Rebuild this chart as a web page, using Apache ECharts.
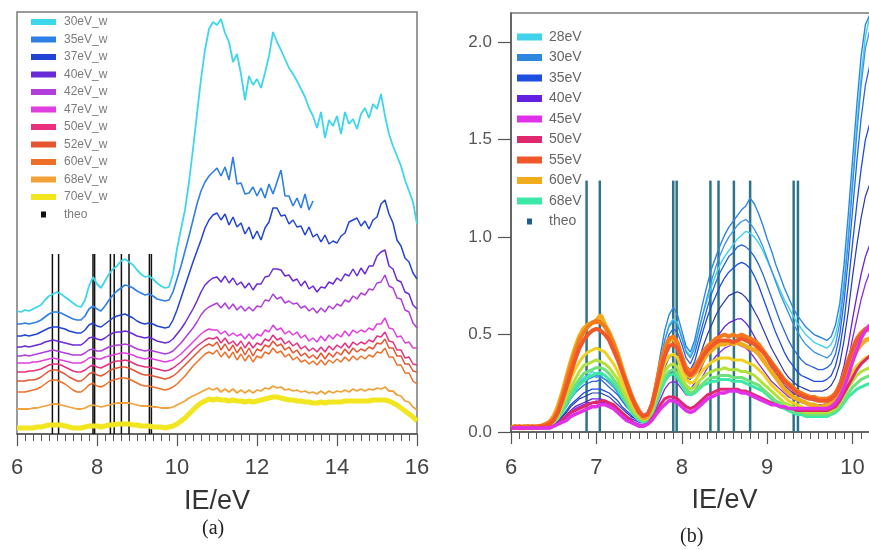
<!DOCTYPE html>
<html>
<head>
<meta charset="utf-8">
<title>IE spectra</title>
<script src="https://cdn.jsdelivr.net/npm/echarts@6/dist/echarts.min.js"></script>
<style>
  html, body { margin: 0; padding: 0; background: #fff; }
  #chart { width: 869px; height: 550px; }
</style>
</head>
<body>
<div id="chart"></div>
<script>
// panel (a): IE 6..16 eV, 0.1 eV step, curves offset (arb. units)
const ieA = [];
for (let i = 0; i <= 100; i++) ieA.push(+(6 + i * 0.1).toFixed(1));

const eV30w = [
  123,122,124,123,125,127,129,134,138,140,
  142,140,137,134,131,128,127,134,148,157,
  150,146,153,160,165,168,173,175,172,169,
  164,160,157,158,155,151,148,146,147,160,
  185,205,224,252,285,320,355,384,405,412,
  409,415,401,392,372,380,360,334,358,349,
  355,346,361,378,402,392,384,375,366,360,
  353,345,337,326,318,306,322,296,314,308,
  318,300,322,310,315,305,320,326,316,330,
  325,340,318,300,288,278,268,254,243,232,
  210];
// 35eV_w stops at 13.4 eV
const eV35w = [
  110,110,111,110,111,112,114,117,120,122,
  122,121,119,117,115,114,114,118,125,128,
  125,123,128,134,139,143,146,149,148,146,
  143,141,139,140,138,135,134,133,134,142,
  155,168,183,198,214,230,243,252,258,262,
  266,258,267,254,277,250,251,240,241,247,
  238,246,236,250,240,252,264,238,238,228,
  236,226,240,224,233];
const eV37w = [
  98,98,99,98,99,100,102,104,106,107,
  107,106,105,103,102,101,101,104,109,111,
  108,107,110,113,116,118,119,120,118,116,
  113,111,110,111,110,108,107,106,107,114,
  124,136,148,160,172,183,194,206,214,219,
  221,214,220,209,217,207,211,200,207,195,
  203,194,206,212,226,226,218,219,210,214,
  207,208,199,207,197,200,192,199,190,193,
  191,198,201,212,214,216,208,213,205,214,
  217,230,234,220,211,194,188,176,172,161,
  155];
const eV40w = [
  87,87,88,87,88,89,90,92,93,94,
  93,92,91,90,89,89,89,92,96,97,
  95,94,96,99,101,102,102,103,102,100,
  98,97,96,97,95,93,92,91,92,95,
  100,105,111,118,125,133,142,149,153,156,
  157,152,158,151,156,149,152,146,151,144,
  150,150,157,158,165,165,164,158,159,153,
  155,148,153,145,148,142,147,146,152,150,
  156,153,160,158,165,158,166,160,168,168,
  178,182,184,168,165,154,152,142,140,129,
  125];
const eV42w = [
  78,78,79,78,79,80,81,82,83,84,
  83,82,81,80,79,79,79,81,84,85,
  83,83,85,87,88,89,89,90,89,87,
  85,84,83,84,83,82,81,80,81,83,
  87,91,96,101,106,112,119,124,127,129,
  131,126,131,125,130,124,128,123,127,123,
  128,127,134,133,140,135,137,131,133,130,
  131,126,128,123,126,121,126,122,128,125,
  130,128,134,132,138,135,141,139,145,144,
  151,152,159,148,146,136,135,124,122,111,
  106];
const eV47w = [
  71,71,71,71,72,72,73,74,75,76,
  75,74,73,72,71,71,71,73,76,77,
  75,75,77,78,79,80,81,81,80,79,
  77,76,75,76,75,74,73,72,73,74,
  77,80,84,88,92,96,100,103,105,104,
  104,100,103,98,101,98,100,95,100,95,
  100,98,104,102,109,104,106,100,103,99,
  102,96,99,93,96,92,98,93,99,95,
  100,97,103,98,104,101,104,102,106,104,
  110,110,116,106,105,97,98,91,92,86,
  86];
const eV50w = [
  62,62,62,63,63,64,65,67,69,70,
  70,69,67,65,63,62,62,64,67,69,
  67,66,68,70,72,73,73,74,73,71,
  69,68,67,67,66,65,64,63,64,66,
  69,72,76,80,84,88,91,94,96,95,
  97,91,96,90,93,88,93,86,92,86,
  91,89,95,93,99,94,96,90,93,88,
  91,85,88,83,86,82,87,82,88,84,
  89,86,91,86,92,89,92,90,94,92,
  98,97,102,93,92,84,84,76,77,70,
  69];
const eV52w = [
  53,53,53,54,54,55,57,60,63,64,
  64,62,60,57,55,53,53,56,60,62,
  59,58,60,63,65,66,67,67,66,64,
  62,60,59,59,58,57,56,55,56,58,
  61,65,69,73,77,81,85,88,90,88,
  92,84,90,83,89,81,87,79,86,78,
  85,83,89,87,93,88,90,84,87,81,
  84,78,81,76,79,75,81,75,81,77,
  82,79,85,80,86,82,85,83,87,85,
  91,90,95,86,86,78,78,70,70,63,
  62];
const eV60w = [
  42,42,42,43,44,45,47,50,53,54,
  54,52,50,47,44,42,42,45,49,51,
  48,47,49,52,54,55,56,56,55,53,
  51,49,48,48,47,46,45,44,45,47,
  50,54,58,63,68,72,76,80,82,80,
  84,77,82,76,82,74,80,73,79,72,
  78,76,82,80,86,81,83,77,80,74,
  77,72,74,70,73,69,74,69,74,71,
  75,72,77,73,78,74,78,75,79,77,
  82,81,86,77,77,69,69,61,61,53,
  50];
const eV68w = [
  25,25,25,25,26,26,27,28,29,30,
  30,29,28,27,26,25,25,26,28,29,
  28,27,28,29,30,31,31,31,31,30,
  29,28,28,28,27,27,26,26,26,27,
  29,31,33,36,38,40,42,44,46,44,
  46,42,45,42,45,41,44,41,44,41,
  44,43,46,45,48,46,47,44,45,43,
  44,42,43,41,42,40,43,40,43,41,
  43,42,44,42,45,43,45,43,45,44,
  46,45,47,43,43,39,38,33,32,27,
  24];
const eV70w = [
  6,6,6,6,6,7,7,8,9,9,
  9,9,8,7,6,6,6,7,8,8,
  8,7,8,9,9,10,10,10,10,9,
  9,8,8,8,7,7,7,6,7,8,
  10,13,16,20,24,28,31,33,35,34,
  35,34,34,33,34,33,33,32,33,32,
  33,34,35,36,37,37,36,35,34,34,
  33,33,32,32,31,31,32,31,32,32,
  32,32,33,33,33,33,33,33,33,34,
  34,34,34,33,31,29,26,23,20,17,
  13];

// panel (b): IE 6..10.2 eV, 0.05 eV step
const ieB = [];
for (let i = 0; i <= 84; i++) ieB.push(+(6 + i * 0.05).toFixed(2));

const eV28 = [
  0.03,0.03,0.02,0.03,0.02,0.02,0.03,0.02,0.03,0.04,
  0.05,0.08,0.12,0.16,0.20,0.23,0.26,0.28,0.29,0.31,
  0.30,0.31,0.29,0.27,0.25,0.22,0.19,0.16,0.13,0.11,
  0.09,0.08,0.09,0.14,0.24,0.36,0.47,0.55,0.58,0.56,
  0.49,0.42,0.39,0.45,0.53,0.61,0.68,0.75,0.81,0.86,
  0.90,0.93,0.96,0.99,1.01,1.03,1.02,1.00,0.97,0.93,
  0.88,0.83,0.78,0.73,0.68,0.64,0.60,0.56,0.53,0.50,
  0.48,0.46,0.45,0.44,0.43,0.45,0.50,0.60,0.78,1.02,
  1.30,1.58,1.83,2.03,2.13];
const eV30 = [
  0.02,0.03,0.03,0.02,0.02,0.03,0.02,0.03,0.03,0.04,
  0.05,0.07,0.10,0.14,0.18,0.21,0.24,0.26,0.27,0.28,
  0.29,0.28,0.27,0.26,0.24,0.21,0.18,0.15,0.12,0.10,
  0.09,0.09,0.10,0.16,0.27,0.40,0.52,0.60,0.64,0.60,
  0.52,0.44,0.41,0.47,0.57,0.67,0.76,0.84,0.90,0.96,
  1.01,1.05,1.08,1.11,1.14,1.16,1.20,1.17,1.12,1.06,
  0.99,0.93,0.86,0.80,0.74,0.69,0.64,0.60,0.57,0.54,
  0.52,0.50,0.49,0.48,0.47,0.49,0.55,0.66,0.86,1.12,
  1.40,1.68,1.93,2.09,2.14];
const eV35 = [
  0.02,0.02,0.03,0.02,0.02,0.02,0.03,0.02,0.03,0.03,
  0.04,0.06,0.08,0.11,0.14,0.16,0.18,0.20,0.21,0.22,
  0.22,0.22,0.21,0.20,0.18,0.16,0.13,0.11,0.09,0.07,
  0.06,0.06,0.07,0.11,0.19,0.29,0.39,0.46,0.48,0.46,
  0.40,0.34,0.32,0.36,0.44,0.52,0.59,0.65,0.70,0.75,
  0.79,0.82,0.84,0.86,0.87,0.86,0.84,0.80,0.75,0.69,
  0.63,0.57,0.51,0.46,0.41,0.37,0.34,0.31,0.29,0.28,
  0.27,0.26,0.26,0.26,0.27,0.29,0.34,0.43,0.57,0.76,
  0.97,1.17,1.35,1.50,1.58];
const eV40 = [
  0.02,0.02,0.02,0.02,0.03,0.02,0.02,0.03,0.02,0.03,
  0.04,0.05,0.07,0.09,0.11,0.13,0.14,0.15,0.16,0.17,
  0.17,0.17,0.16,0.15,0.14,0.12,0.10,0.08,0.07,0.06,
  0.05,0.05,0.06,0.09,0.14,0.20,0.26,0.30,0.31,0.30,
  0.26,0.23,0.22,0.25,0.30,0.35,0.40,0.44,0.48,0.51,
  0.54,0.56,0.57,0.58,0.58,0.56,0.53,0.49,0.45,0.41,
  0.37,0.33,0.30,0.27,0.24,0.22,0.20,0.19,0.18,0.17,
  0.17,0.16,0.16,0.16,0.17,0.18,0.21,0.26,0.34,0.45,
  0.58,0.70,0.81,0.90,0.96];
const eV45 = [
  0.02,0.02,0.02,0.02,0.02,0.02,0.02,0.02,0.02,0.02,
  0.03,0.04,0.05,0.06,0.08,0.09,0.10,0.11,0.12,0.13,
  0.13,0.14,0.14,0.13,0.12,0.10,0.08,0.06,0.05,0.04,
  0.03,0.03,0.04,0.06,0.09,0.12,0.14,0.16,0.16,0.15,
  0.13,0.11,0.10,0.11,0.13,0.15,0.17,0.18,0.19,0.20,
  0.20,0.21,0.21,0.21,0.20,0.20,0.19,0.18,0.17,0.16,
  0.15,0.14,0.14,0.13,0.13,0.12,0.12,0.12,0.12,0.12,
  0.12,0.12,0.12,0.12,0.12,0.13,0.15,0.18,0.23,0.29,
  0.36,0.42,0.48,0.52,0.55];
const eV50 = [
  0.02,0.02,0.02,0.02,0.02,0.02,0.02,0.02,0.02,0.02,
  0.03,0.04,0.06,0.08,0.10,0.11,0.12,0.13,0.14,0.15,
  0.15,0.16,0.16,0.15,0.14,0.12,0.10,0.08,0.06,0.04,
  0.03,0.03,0.04,0.07,0.10,0.14,0.17,0.18,0.18,0.17,
  0.15,0.13,0.12,0.13,0.15,0.17,0.19,0.20,0.21,0.22,
  0.22,0.22,0.22,0.22,0.21,0.21,0.20,0.19,0.18,0.17,
  0.16,0.15,0.14,0.13,0.13,0.12,0.12,0.11,0.11,0.11,
  0.11,0.11,0.11,0.11,0.11,0.12,0.13,0.16,0.20,0.24,
  0.28,0.32,0.35,0.37,0.39];
const eV55 = [
  0.02,0.02,0.03,0.02,0.02,0.03,0.02,0.03,0.03,0.04,
  0.06,0.10,0.16,0.23,0.30,0.37,0.43,0.47,0.50,0.52,
  0.53,0.52,0.50,0.47,0.42,0.37,0.31,0.25,0.19,0.14,
  0.10,0.08,0.09,0.14,0.22,0.31,0.39,0.44,0.45,0.43,
  0.37,0.31,0.29,0.31,0.35,0.39,0.42,0.44,0.46,0.47,
  0.47,0.47,0.46,0.47,0.48,0.47,0.46,0.45,0.43,0.41,
  0.38,0.35,0.32,0.29,0.26,0.24,0.22,0.20,0.19,0.18,
  0.17,0.17,0.16,0.16,0.16,0.17,0.19,0.23,0.29,0.36,
  0.42,0.47,0.50,0.52,0.53];
const eV60 = [
  0.02,0.03,0.02,0.02,0.03,0.02,0.03,0.03,0.04,0.05,
  0.08,0.13,0.20,0.28,0.36,0.43,0.49,0.53,0.55,0.56,
  0.57,0.60,0.55,0.51,0.46,0.40,0.33,0.26,0.20,0.14,
  0.10,0.07,0.08,0.13,0.23,0.34,0.42,0.47,0.48,0.45,
  0.38,0.31,0.28,0.30,0.33,0.37,0.40,0.42,0.44,0.45,
  0.45,0.46,0.45,0.46,0.45,0.44,0.43,0.42,0.40,0.37,
  0.34,0.31,0.28,0.25,0.22,0.20,0.18,0.17,0.16,0.15,
  0.14,0.14,0.13,0.13,0.14,0.15,0.17,0.21,0.27,0.33,
  0.38,0.42,0.45,0.47,0.48];
const eV68 = [
  0.02,0.02,0.02,0.02,0.02,0.02,0.02,0.03,0.03,0.03,
  0.05,0.07,0.10,0.14,0.18,0.21,0.24,0.26,0.28,0.29,
  0.30,0.30,0.29,0.27,0.25,0.22,0.18,0.15,0.11,0.08,
  0.06,0.05,0.06,0.09,0.15,0.21,0.26,0.29,0.30,0.28,
  0.24,0.20,0.19,0.20,0.22,0.24,0.25,0.26,0.26,0.27,
  0.27,0.27,0.26,0.26,0.26,0.25,0.24,0.23,0.22,0.21,
  0.19,0.17,0.15,0.13,0.12,0.11,0.10,0.09,0.09,0.08,
  0.08,0.08,0.08,0.08,0.08,0.09,0.10,0.12,0.15,0.18,
  0.20,0.22,0.23,0.24,0.25];
// further scans that share the legend colours but have no own entry
const scan32 = [
  0.03,0.02,0.03,0.03,0.02,0.03,0.03,0.02,0.03,0.04,
  0.05,0.08,0.11,0.15,0.19,0.22,0.25,0.27,0.28,0.29,
  0.28,0.29,0.27,0.25,0.23,0.20,0.17,0.14,0.12,0.10,
  0.08,0.08,0.09,0.15,0.25,0.37,0.47,0.54,0.57,0.55,
  0.48,0.41,0.38,0.43,0.52,0.61,0.70,0.78,0.85,0.91,
  0.96,1.00,1.03,1.06,1.08,1.09,1.07,1.04,1.00,0.95,
  0.89,0.83,0.77,0.71,0.66,0.61,0.56,0.52,0.48,0.45,
  0.43,0.41,0.40,0.39,0.38,0.40,0.45,0.56,0.74,0.98,
  1.26,1.53,1.78,1.97,2.06];
const scan33 = [
  0.02,0.03,0.02,0.02,0.03,0.02,0.03,0.02,0.03,0.03,
  0.05,0.07,0.10,0.13,0.17,0.20,0.22,0.24,0.25,0.26,
  0.26,0.27,0.25,0.23,0.21,0.19,0.16,0.13,0.11,0.09,
  0.08,0.07,0.08,0.13,0.22,0.33,0.43,0.50,0.53,0.51,
  0.45,0.38,0.35,0.40,0.48,0.56,0.64,0.71,0.77,0.82,
  0.86,0.90,0.92,0.95,0.96,0.95,0.93,0.90,0.86,0.81,
  0.75,0.69,0.63,0.57,0.52,0.47,0.43,0.40,0.37,0.35,
  0.34,0.33,0.32,0.32,0.33,0.35,0.40,0.50,0.67,0.89,
  1.14,1.39,1.61,1.78,1.88];
const scan37 = [
  0.02,0.02,0.02,0.03,0.02,0.02,0.02,0.03,0.02,0.03,
  0.04,0.06,0.08,0.10,0.13,0.15,0.17,0.18,0.19,0.20,
  0.20,0.20,0.19,0.18,0.16,0.14,0.12,0.10,0.08,0.07,
  0.06,0.06,0.07,0.10,0.17,0.25,0.33,0.38,0.40,0.38,
  0.33,0.28,0.27,0.31,0.37,0.44,0.50,0.55,0.60,0.64,
  0.67,0.70,0.71,0.72,0.71,0.69,0.66,0.62,0.58,0.53,
  0.48,0.43,0.39,0.35,0.31,0.28,0.26,0.24,0.23,0.22,
  0.21,0.21,0.21,0.21,0.22,0.24,0.28,0.35,0.47,0.62,
  0.80,0.96,1.10,1.21,1.27];
const scan42 = [
  0.02,0.02,0.02,0.02,0.02,0.02,0.02,0.02,0.03,0.03,
  0.04,0.05,0.07,0.08,0.10,0.12,0.13,0.14,0.15,0.15,
  0.16,0.15,0.15,0.14,0.13,0.11,0.09,0.08,0.06,0.05,
  0.04,0.04,0.05,0.08,0.12,0.17,0.22,0.25,0.26,0.25,
  0.22,0.19,0.19,0.21,0.25,0.29,0.33,0.36,0.39,0.41,
  0.43,0.44,0.45,0.45,0.44,0.43,0.41,0.38,0.35,0.32,
  0.29,0.26,0.24,0.22,0.20,0.18,0.17,0.16,0.15,0.15,
  0.14,0.14,0.14,0.14,0.15,0.16,0.18,0.22,0.28,0.37,
  0.48,0.58,0.68,0.76,0.82];
const scan57 = [
  0.02,0.03,0.02,0.03,0.03,0.02,0.03,0.03,0.04,0.05,
  0.07,0.11,0.18,0.26,0.34,0.41,0.47,0.51,0.54,0.56,
  0.57,0.56,0.54,0.50,0.45,0.39,0.32,0.26,0.20,0.15,
  0.11,0.08,0.09,0.14,0.24,0.35,0.43,0.48,0.49,0.46,
  0.39,0.33,0.31,0.33,0.37,0.41,0.44,0.46,0.48,0.49,
  0.50,0.49,0.50,0.49,0.50,0.49,0.48,0.47,0.45,0.42,
  0.39,0.36,0.33,0.30,0.27,0.25,0.23,0.21,0.20,0.19,
  0.18,0.18,0.17,0.17,0.17,0.18,0.20,0.24,0.30,0.37,
  0.43,0.48,0.51,0.53,0.54];
const scan62 = [
  0.02,0.02,0.03,0.02,0.02,0.03,0.02,0.03,0.03,0.04,
  0.06,0.10,0.15,0.21,0.27,0.32,0.36,0.39,0.41,0.42,
  0.43,0.42,0.41,0.38,0.35,0.31,0.26,0.21,0.16,0.12,
  0.09,0.07,0.08,0.12,0.20,0.28,0.35,0.39,0.40,0.38,
  0.32,0.27,0.25,0.26,0.29,0.32,0.34,0.36,0.37,0.38,
  0.38,0.38,0.37,0.37,0.37,0.36,0.35,0.34,0.32,0.30,
  0.27,0.24,0.22,0.20,0.18,0.16,0.15,0.14,0.13,0.12,
  0.12,0.12,0.11,0.11,0.12,0.13,0.14,0.17,0.22,0.27,
  0.31,0.34,0.36,0.38,0.39];
const scan64 = [
  0.02,0.02,0.02,0.03,0.02,0.02,0.03,0.02,0.03,0.04,
  0.05,0.08,0.13,0.18,0.23,0.27,0.31,0.34,0.35,0.36,
  0.37,0.36,0.35,0.33,0.30,0.27,0.22,0.18,0.14,0.10,
  0.08,0.06,0.07,0.11,0.18,0.25,0.31,0.34,0.35,0.33,
  0.28,0.24,0.22,0.23,0.26,0.28,0.30,0.31,0.32,0.32,
  0.33,0.32,0.32,0.32,0.31,0.31,0.30,0.29,0.27,0.25,
  0.23,0.21,0.19,0.17,0.15,0.14,0.13,0.12,0.11,0.10,
  0.10,0.10,0.10,0.10,0.10,0.11,0.12,0.15,0.19,0.23,
  0.26,0.29,0.31,0.32,0.33];
const scan66 = [
  0.02,0.02,0.02,0.02,0.02,0.03,0.02,0.02,0.03,0.03,
  0.05,0.07,0.11,0.16,0.20,0.24,0.27,0.30,0.31,0.32,
  0.33,0.33,0.32,0.30,0.27,0.24,0.20,0.16,0.12,0.09,
  0.07,0.06,0.07,0.10,0.16,0.23,0.28,0.31,0.32,0.30,
  0.26,0.22,0.20,0.21,0.23,0.25,0.27,0.28,0.28,0.29,
  0.29,0.29,0.28,0.28,0.28,0.27,0.26,0.25,0.24,0.22,
  0.20,0.18,0.16,0.15,0.13,0.12,0.11,0.10,0.10,0.09,
  0.09,0.09,0.09,0.09,0.09,0.10,0.11,0.13,0.16,0.20,
  0.23,0.25,0.27,0.28,0.29];

// theoretical IE positions (sticks)
const theoIE = [6.885, 7.04, 7.90, 7.94, 8.335, 8.43, 8.61, 8.80, 9.31, 9.36];
const theoHeightA = [180, 180, 180, 180, 180, 180, 180, 180, 180, 180];
const theoHeightB = [1.29, 1.29, 1.29, 1.29, 1.29, 1.29, 1.29, 1.29, 1.29, 1.29];

const yTicksB = [0, 0.5, 1, 1.5, 2];

const namesA = ['30eV_w', '35eV_w', '37eV_w', '40eV_w', '42eV_w', '47eV_w',
  '50eV_w', '52eV_w', '60eV_w', '68eV_w', '70eV_w'];
const valuesA = [eV30w, eV35w, eV37w, eV40w, eV42w, eV47w, eV50w, eV52w, eV60w, eV68w, eV70w];
const colorsA = ['#3dd6ea', '#2e7fe6', '#2244d4', '#6a2ad6', '#b03ed8', '#e03ee0',
  '#e8307f', '#e45530', '#ee7028', '#f3a23a', '#f1e620'];
const widthsA = [1.8, 1.6, 1.5, 1.5, 1.5, 1.5, 1.5, 1.5, 1.5, 1.8, 5];

const namesB = ['28eV', '30eV', '35eV', '40eV', '45eV', '50eV', '55eV', '60eV', '68eV'];

// drawing order for (b): blue scans at the back, orange band above them
const linesB = [
  { name: '28eV', data: eV28, color: '#3fd2ea', width: 1.4 },
  { name: '30eV', data: eV30, color: '#2f86de', width: 1.4 },
  { name: '32eV', data: scan32, color: '#3a92e6', width: 1.3 },
  { name: '33eV', data: scan33, color: '#2a66d8', width: 1.3 },
  { name: '35eV', data: eV35, color: '#1e4ee0', width: 1.3 },
  { name: '37eV', data: scan37, color: '#2a3aa8', width: 1.2 },
  { name: '40eV', data: eV40, color: '#6420e0', width: 1.3 },
  { name: '42eV', data: scan42, color: '#8a2ae0', width: 1.3 },
  { name: '68eV', data: eV68, color: '#3ce8a6', width: 3 },
  { name: '66eV', data: scan66, color: '#6ee27a', width: 3 },
  { name: '64eV', data: scan64, color: '#b4e03c', width: 3 },
  { name: '62eV', data: scan62, color: '#f0d020', width: 3 },
  { name: '60eV', data: eV60, color: '#f0ac1c', width: 4.5 },
  { name: '57eV', data: scan57, color: '#f47a1e', width: 4 },
  { name: '55eV', data: eV55, color: '#f0582a', width: 4 },
  { name: '50eV', data: eV50, color: '#e0286e', width: 3 },
  { name: '45eV', data: eV45, color: '#e030e8', width: 3.5 }
];
const legendColorsB = ['#3fd2ea', '#2f86de', '#1e4ee0', '#6420e0', '#e030e8', '#e0286e',
  '#f0582a', '#f0ac1c', '#3ce8a6'];

const FONT = '"Liberation Sans", Arial, sans-serif';
const theoIcon = 'path://M0,0M25,6M10,0h5v6h-5z';

const pairs = (xs, ys) => ys.map((y, i) => [xs[i], y]);

const series = [];
namesA.forEach((n, k) => {
  series.push({
    name: n, type: 'line', xAxisIndex: 0, yAxisIndex: 0,
    data: pairs(ieA, valuesA[k]),
    showSymbol: false, symbol: 'none',
    lineStyle: { color: colorsA[k], width: widthsA[k] },
    itemStyle: { color: colorsA[k] }
  });
});
series.push({
  name: 'theo', type: 'bar', xAxisIndex: 0, yAxisIndex: 0,
  data: pairs(theoIE, theoHeightA), barWidth: 1.5,
  itemStyle: { color: '#111' }
});
linesB.forEach((l) => {
  series.push({
    name: l.name, type: 'line', xAxisIndex: 1, yAxisIndex: 1,
    data: pairs(ieB, l.data),
    showSymbol: false, symbol: 'none',
    lineStyle: { color: l.color, width: l.width },
    itemStyle: { color: l.color }
  });
});
series.push({
  name: 'theo', type: 'bar', xAxisIndex: 1, yAxisIndex: 1,
  data: pairs(theoIE, theoHeightB), barWidth: 2.5,
  itemStyle: { color: '#2d7389' }
});

const axisColor = '#555';
const xAxisCommon = {
  type: 'value',
  axisLine: { show: true, onZero: false, lineStyle: { color: axisColor, width: 1.5 } },
  axisTick: { show: true, length: 12, lineStyle: { color: axisColor, width: 1.2 } },
  minorTick: { show: true, splitNumber: 10, length: 7, lineStyle: { color: axisColor } },
  splitLine: { show: false },
  minorSplitLine: { show: false },
  axisLabel: { fontSize: 22, color: '#444', fontFamily: FONT, margin: 23 },
  name: 'IE/eV', nameLocation: 'middle', nameMoveOverlap: false,
  nameTextStyle: { fontSize: 27, color: '#333', fontFamily: FONT }
};

const option = {
  animation: false,
  backgroundColor: '#fff',
  grid: [
    { left: 17, top: 12, width: 400, height: 422, show: true,
      borderColor: '#7a7a7a', borderWidth: 1.5, outerBoundsMode: 'none' },
    { left: 511, top: 13, width: 427, height: 419, show: true,
      borderColor: '#7a7a7a', borderWidth: 1.5, outerBoundsMode: 'none' }
  ],
  xAxis: [
    Object.assign({}, xAxisCommon, { gridIndex: 0, min: 6, max: 16, interval: 2, nameGap: 54 }),
    Object.assign({}, xAxisCommon, { gridIndex: 1, min: 6, max: 11, interval: 1, nameGap: 55,
      axisLabel: { fontSize: 22, color: '#444', fontFamily: FONT, margin: 25 } })
  ],
  yAxis: [
    { gridIndex: 0, type: 'value', min: 0, max: 422, show: false },
    { gridIndex: 1, type: 'value', min: 0, max: 2.15,
      axisLine: { show: true, lineStyle: { color: axisColor, width: 1.5 } },
      axisTick: { show: true, length: 13, customValues: yTicksB, lineStyle: { color: axisColor, width: 1.2 } },
      axisLabel: { customValues: yTicksB, formatter: (v) => v.toFixed(1),
        fontSize: 17, color: '#555', fontFamily: FONT, margin: 19 },
      splitLine: { show: false } }
  ],
  legend: [
    {
      orient: 'vertical', left: 31, top: 15, padding: 0,
      itemWidth: 25, itemHeight: 6, itemGap: 3.5, icon: 'rect',
      textStyle: { fontSize: 12, color: '#7c7c7c', lineHeight: 14, fontFamily: FONT, padding: [0, 0, 0, 3] },
      data: namesA.map((n) => ({ name: n }))
        .concat([{ name: 'theo', icon: theoIcon, itemStyle: { color: '#111' } }])
    },
    {
      orient: 'vertical', left: 517, top: 29, padding: 0,
      itemWidth: 25, itemHeight: 7, itemGap: 4.5, icon: 'rect',
      textStyle: { fontSize: 14, color: '#666', lineHeight: 16, fontFamily: FONT, padding: [0, 0, 0, 2] },
      data: namesB.map((n, k) => ({ name: n, itemStyle: { color: legendColorsB[k] } }))
        .concat([{ name: 'theo', icon: theoIcon, itemStyle: { color: '#1f5e8c' } }])
    }
  ],
  graphic: [
    { type: 'text', left: 202, top: 519,
      style: { text: '(a)', font: '20px "Liberation Serif", serif', fill: '#222' } },
    { type: 'text', left: 680, top: 527,
      style: { text: '(b)', font: '20px "Liberation Serif", serif', fill: '#222' } }
  ],
  series: series
};

const chart = echarts.init(document.getElementById('chart'));
chart.setOption(option);
</script>
</body>
</html>
